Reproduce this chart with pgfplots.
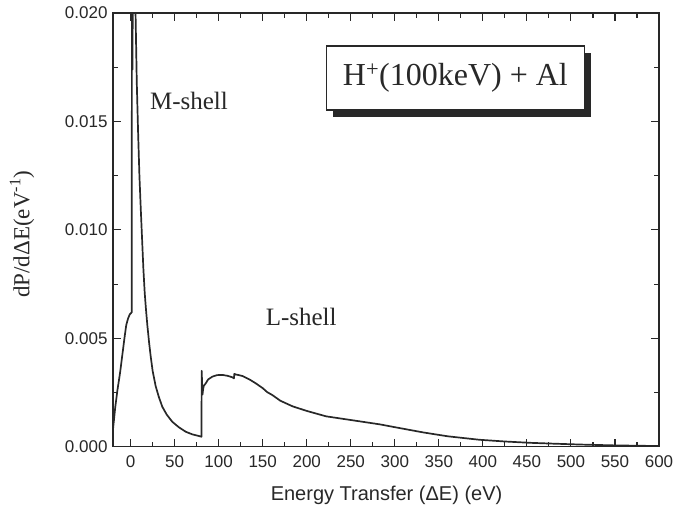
\documentclass[border=0pt]{standalone}
\usepackage{fontspec}
\setmainfont{Liberation Serif}
\newfontfamily\sansf{Liberation Sans}
\usepackage{pgfplots}
\pgfplotsset{compat=1.18}
\definecolor{curve}{RGB}{40,40,40}

\begin{document}
\begin{tikzpicture}[x=1pt,y=1pt]
\useasboundingbox[fill=white] (0,0) rectangle (677,513);
\begin{axis}[
  at={(113pt,66.3pt)}, anchor=south west,
  scale only axis, width=546pt, height=433.7pt,
  xmin=-20, xmax=600, ymin=0, ymax=0.020,
  xtick={0,50,...,600}, ytick={0,0.005,0.010,0.015,0.020},
  minor x tick num=1, minor y tick num=1,
  scaled y ticks=false,
  yticklabel style={/pgf/number format/fixed, /pgf/number format/fixed zerofill,
    /pgf/number format/precision=3, xshift=-2pt},
  /pgf/number format/assume math mode=true,
  tick label style={font=\sansf\fontsize{17}{19}\selectfont, color=curve},
  xticklabel style={yshift=-5pt},
  major tick length=8pt, minor tick length=5pt,
  tick style={line width=1.1pt, color=curve},
  axis line style={line width=1.6pt, color=curve},
  xlabel={Energy Transfer (ΔE) (eV)},
  ylabel={dP/dΔE(eV\textsuperscript{-1})},
  every axis x label/.style={at={(axis description cs:0.501,-0.111)}, anchor=center,
    font=\sansf\fontsize{20}{22}\selectfont, color=curve},
  every axis y label/.style={at={(axis description cs:-0.1667,0.490)}, rotate=90, anchor=center,
    font=\fontsize{23}{25}\selectfont, color=curve},
]
% energy-loss distribution, M-shell peak then L-shell edge at ~80 eV
\addplot[curve, line width=1.7pt, line join=round] coordinates {
  (-20,0.0008) (-17.5,0.0018) (-15,0.0026) (-12,0.0034) (-9.5,0.0042)
  (-7,0.0050) (-5,0.0056) (-3,0.0059) (-1,0.0061) (1.3,0.0062)
  (1.5,0.024) (2.2,0.0174) (2.6,0.024) (4,0.030) (5.2,0.022) (5.6,0.0200)
  (7,0.0168) (8.5,0.0145) (10,0.0125) (11.5,0.0110) (13,0.0096)
  (14.5,0.0082) (16,0.0071) (17.5,0.0063) (19,0.0056) (21,0.0048)
  (22.7,0.0042) (25,0.0035) (28.4,0.0028) (32,0.0023) (36,0.00184)
  (41,0.00148) (47.3,0.00115) (55,0.00089) (62.6,0.00069) (70,0.00057)
  (77.7,0.00049) (80.5,0.00046)
  (80.7,0.0035) (81.2,0.0029) (81.6,0.0024) (82.2,0.0026) (83,0.0028)
  (85.3,0.00292) (88,0.0031) (92.8,0.00323) (98,0.0033) (104.2,0.00331)
  (110,0.00327) (115.6,0.0032) (117.3,0.00315) (117.8,0.00336)
  (119.5,0.00333) (123,0.0033) (127,0.00326) (135,0.0031) (142.2,0.00292)
  (150,0.0027) (155,0.00252) (161,0.00238) (170,0.00212) (184,0.00186)
  (200,0.00165) (222,0.0014) (260,0.00117) (283,0.00103) (300,0.0009)
  (332,0.00066) (360,0.00048) (396,0.00032) (425,0.00024) (453,0.00018)
  (480,0.00014) (510,0.0001) (550,0.00006) (600,0.00003)
};
\node[font=\fontsize{25}{27}\selectfont, color=curve] at (axis cs:66.3,0.01594) {M-shell};
\node[font=\fontsize{25}{27}\selectfont, color=curve] at (axis cs:193.7,0.0060) {L-shell};
% caption box with a drop shadow
\node[fill=curve, minimum width=258pt, minimum height=64pt, inner sep=0pt,
      xshift=7pt, yshift=-7pt] at (axis cs:368.8,0.0170) {};
\node[draw=curve, line width=1.1pt, fill=white, minimum width=258pt, minimum height=64pt,
      inner sep=0pt, font=\fontsize{32}{34}\selectfont, text=curve] at (axis cs:368.8,0.0170)
      {H\textsuperscript{+}(100keV) + Al};
\end{axis}
\end{tikzpicture}
\end{document}
